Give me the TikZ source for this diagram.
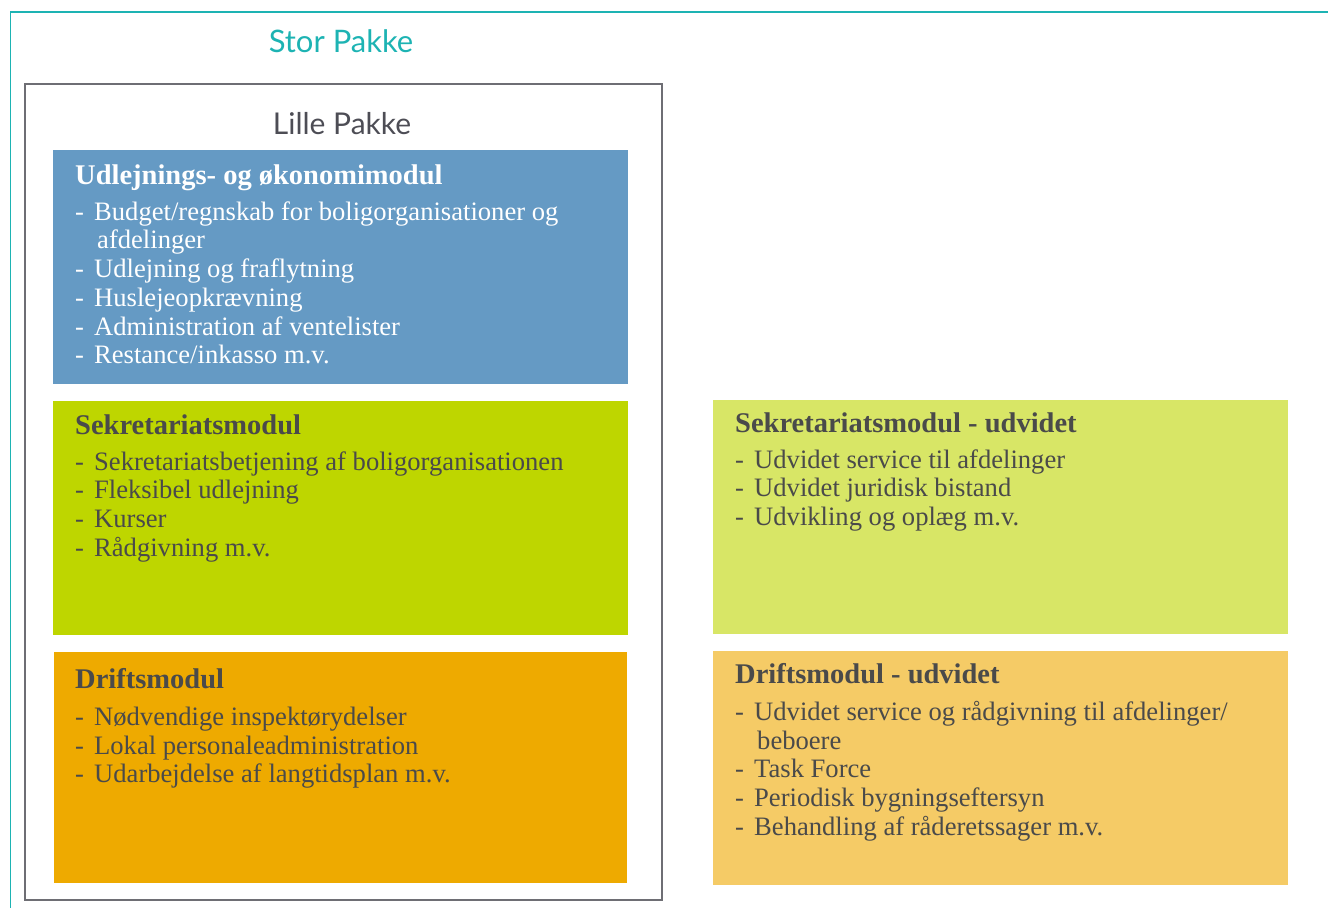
\documentclass[tikz,border=0pt]{standalone}
\usepackage{fontspec}
\setmainfont{Liberation Serif}
\newfontfamily\pakkefont{Lato}
\definecolor{storteal}{HTML}{1DB3B3}
\definecolor{lillegray}{HTML}{6E6E74}
\definecolor{lilletxt}{HTML}{4D4D55}
\definecolor{modtxt}{HTML}{4A4A4A}
\definecolor{udlblue}{HTML}{659AC4}
\definecolor{sekgreen}{HTML}{BED600}
\definecolor{driorange}{HTML}{EEAA00}
\definecolor{sekgreenx}{HTML}{D8E666}
\definecolor{driorangex}{HTML}{F5CB66}
\newcommand\li{\makebox[19pt][l]{-}}
\tikzset{
  pakke/.style={inner sep=0pt, font=\pakkefont\fontsize{31}{34}\selectfont},
  modhead/.style={anchor=base west, inner sep=0pt, font=\fontsize{28.5}{31}\selectfont\bfseries},
  modlist/.style={anchor=north west, inner sep=0pt, align=left, font=\fontsize{26.6}{28.7}\selectfont},
}

\begin{document}
\begin{tikzpicture}[x=1pt,y=-1pt]
		%%%%% START %%%%%
		\useasboundingbox (0,0) rectangle (1328,908);
		
		% Stor Pakke
		\draw[line width=1.5pt, color=storteal] (1328,12) -- (10.5,12) -- (10.5,908);
		\node[pakke, text=storteal] (stor) at (341,41) {Stor Pakke};
		
		% Lille Pakke
		\draw[line width=1.3pt, color=lillegray] (25,84) rectangle (662,900);
		\node[pakke, text=lilletxt, font=\pakkefont\fontsize{30}{33}\selectfont] (lille) at (342,124) {Lille Pakke};
		
		% udlejning
		\fill[udlblue] (53,150) rectangle (628,384);
		\node[modhead, text=white] (udlhead) at (75,184) {Udlejnings- og økonomimodul};
		\node[modlist, text=white] (udllist) at (75,200) {\strut\li Budget/regnskab for boligorganisationer og\\
			\hspace*{22pt}afdelinger\\
			\li Udlejning og fraflytning\\
			\li Huslejeopkrævning\\
			\li Administration af ventelister\\
			\li Restance/inkasso m.v.};
		
		% sekretariat
		\fill[sekgreen] (53,401) rectangle (628,635);
		\node[modhead, text=modtxt] (sekhead) at (75,434) {Sekretariatsmodul};
		\node[modlist, text=modtxt] (seklist) at (75,450) {\strut\li Sekretariatsbetjening af boligorganisationen\\
			\li Fleksibel udlejning\\
			\li Kurser\\
			\li Rådgivning m.v.};
		
		% drift
		\fill[driorange] (54,652) rectangle (627,883);
		\node[modhead, text=modtxt] (drihead) at (75,688) {Driftsmodul};
		\node[modlist, text=modtxt] (drilist) at (75,705) {\strut\li Nødvendige inspektørydelser\\
			\li Lokal personaleadministration\\
			\li Udarbejdelse af langtidsplan m.v.};
		
		% sekretariat udvidet
		\fill[sekgreenx] (713,400) rectangle (1288,634);
		\node[modhead, text=modtxt] (sekxhead) at (735,432) {Sekretariatsmodul - udvidet};
		\node[modlist, text=modtxt] (sekxlist) at (735,448) {\strut\li Udvidet service til afdelinger\\
			\li Udvidet juridisk bistand\\
			\li Udvikling og oplæg m.v.};
		
		% drift udvidet
		\fill[driorangex] (713,651) rectangle (1288,885);
		\node[modhead, text=modtxt] (drixhead) at (735,683) {Driftsmodul - udvidet};
		\node[modlist, text=modtxt] (drixlist) at (735,700) {\strut\li Udvidet service og rådgivning til afdelinger/\\
			\hspace*{22pt}beboere\\
			\li Task Force\\
			\li Periodisk bygningseftersyn\\
			\li Behandling af råderetssager m.v.};
		
		%%%%% END %%%%%
	\end{tikzpicture}
\end{document}
